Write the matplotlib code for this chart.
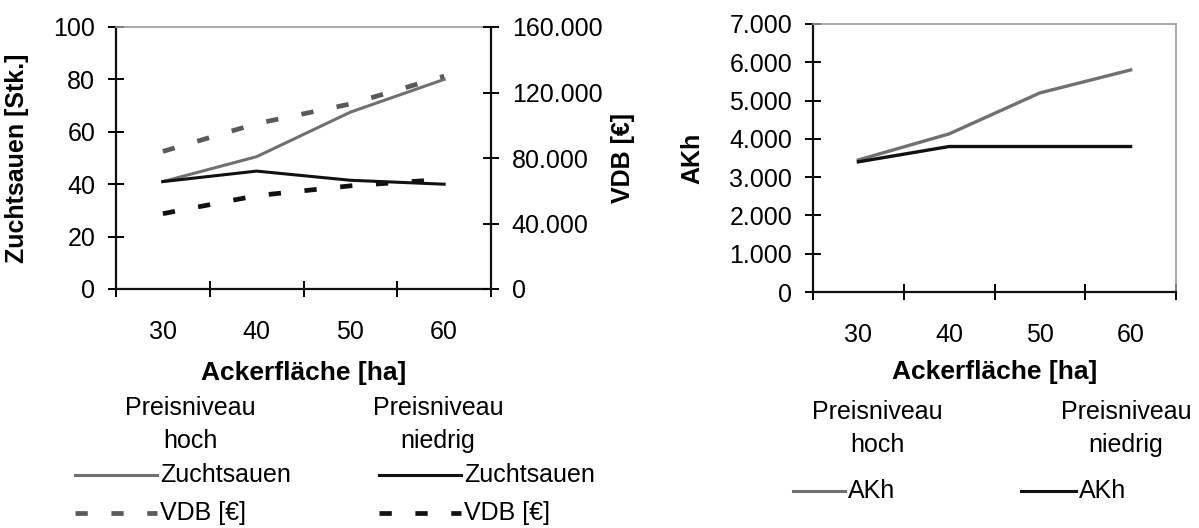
"""
Zuchtsauen, VDB und AKh nach Ackerfläche (Preisniveau hoch / niedrig).
"""

import matplotlib
matplotlib.use('Agg')
import matplotlib.pyplot as plt
from matplotlib.lines import Line2D
from matplotlib.ticker import FixedLocator, FuncFormatter

plt.rcParams['font.family'] = ['Liberation Sans', 'DejaVu Sans']

categories = ['30', '40', '50', '60']
zucht_hoch = [41, 50.5, 67.5, 80]
zucht_niedrig = [41, 45, 41.5, 40]
vdb_hoch = [84000, 101000, 113000, 130000]
vdb_niedrig = [46000, 57000, 63000, 67000]
akh_hoch = [3450, 4130, 5200, 5800]
akh_niedrig = [3400, 3800, 3800, 3800]

GRAY = '#707070'
DGRAY = '#5a5a5a'
BLACK = '#111111'
W, H = 1199, 528


def px(x, y):
    """pixel (from top left) -> figure fraction"""
    return x / W, 1 - y / H


def de_fmt(v, pos=None):
    return '{:,.0f}'.format(v).replace(',', '.')


def style_axis(ax, gray_sides):
    ax.set_xlim(-0.5, len(categories) - 0.5)
    # category boundaries get the tick marks, labels sit in the middle
    ax.xaxis.set_major_locator(FixedLocator([i - 0.5 for i in range(len(categories) + 1)]))
    ax.xaxis.set_minor_locator(FixedLocator(range(len(categories))))
    ax.xaxis.set_major_formatter(FuncFormatter(lambda v, p: ''))
    ax.set_xticks(range(len(categories)), categories, minor=True)
    ax.tick_params(axis='x', which='major', direction='inout', length=12, width=1.4)
    ax.tick_params(axis='x', which='minor', length=0, pad=22, labelsize=18)
    ax.tick_params(axis='y', direction='inout', length=12, width=1.4, pad=9, labelsize=18)
    for side in ['left', 'bottom', 'right', 'top']:
        ax.spines[side].set_linewidth(1.6)
        ax.spines[side].set_color(BLACK)
    for side in gray_sides:
        ax.spines[side].set_color('#999999')
        ax.spines[side].set_linewidth(1.2)
    ax.set_xlabel('Ackerfläche [ha]', fontsize=19, fontweight='bold')
    ax.xaxis.label.set_va('center')
    ax.set_facecolor('white')


fig = plt.figure(figsize=(W / 100, H / 100), dpi=100)

# ---- left chart: Zuchtsauen + VDB
x0, y0 = px(116, 289)
x1, y1 = px(491, 27)
ax1 = fig.add_axes([x0, y0, x1 - x0, y1 - y0])
ax2 = ax1.twinx()
x = range(len(categories))

ax1.plot(x, zucht_hoch, color=GRAY, lw=2.2)
ax1.plot(x, zucht_niedrig, color=BLACK, lw=2.2)
ax2.plot(x, vdb_hoch, color=DGRAY, lw=3.4, dashes=(2.6, 5.0))
ax2.plot(x, vdb_niedrig, color=BLACK, lw=3.4, dashes=(2.6, 5.0))

style_axis(ax1, ['top'])
ax1.spines['right'].set_visible(False)
ax1.set_ylim(0, 100)
ax1.set_yticks(range(0, 101, 20))
ax1.set_ylabel('Zuchtsauen [Stk.]', fontsize=18, fontweight='bold')
ax1.yaxis.set_label_coords(-0.232, 0.5)
ax1.xaxis.set_label_coords(0.5, -0.32)

ax2.set_ylim(0, 160000)
ax2.set_yticks(range(0, 160001, 40000))
ax2.yaxis.set_major_formatter(FuncFormatter(de_fmt))
ax2.tick_params(axis='y', direction='inout', length=12, width=1.4, pad=9, labelsize=18)
for side in ['left', 'bottom', 'top']:
    ax2.spines[side].set_visible(False)
ax2.spines['right'].set_linewidth(1.6)
ax2.spines['right'].set_color(BLACK)
ax2.set_ylabel('VDB [€]', fontsize=18, fontweight='bold')
ax2.yaxis.set_label_coords(1.32, 0.5)

# ---- right chart: AKh
x0, y0 = px(813, 292)
x1, y1 = px(1176, 24)
ax3 = fig.add_axes([x0, y0, x1 - x0, y1 - y0])
ax3.plot(x, akh_hoch, color=GRAY, lw=2.4)
ax3.plot(x, akh_niedrig, color=BLACK, lw=2.4)
style_axis(ax3, ['top', 'right'])
ax3.set_ylim(0, 7000)
ax3.set_yticks(range(0, 7001, 1000))
ax3.yaxis.set_major_formatter(FuncFormatter(de_fmt))
ax3.set_ylabel('AKh', fontsize=18, fontweight='bold')
ax3.yaxis.set_label_coords(-0.30, 0.5)
ax3.xaxis.set_label_coords(0.5, -0.30)


# ---- legends, drawn by hand to get the two headed columns
def legend_key(xa, xb, y, color, text, dashed=False):
    xs = [px(xa, y)[0], px(xb, y)[0]]
    ys = [px(xa, y)[1]] * 2
    if dashed:
        ln = Line2D(xs, ys, transform=fig.transFigure, color=color, lw=3.4, dashes=(2.6, 5.0))
    else:
        ln = Line2D(xs, ys, transform=fig.transFigure, color=color, lw=2.2)
    fig.add_artist(ln)
    fig.text(*px(xb + 3, y), text, ha='left', va='center', fontsize=18)


def heading(xc, y, level):
    fig.text(*px(xc, y), 'Preisniveau', ha='center', va='center', fontsize=18)
    fig.text(*px(xc, y + 33), level, ha='center', va='center', fontsize=18)


heading(190, 408, 'hoch')
heading(438, 408, 'niedrig')
legend_key(75, 157, 475, GRAY, 'Zuchtsauen')
legend_key(75, 157, 513, DGRAY, 'VDB [€]', dashed=True)
legend_key(379, 461, 475, BLACK, 'Zuchtsauen')
legend_key(379, 461, 513, BLACK, 'VDB [€]', dashed=True)

heading(877, 412, 'hoch')
heading(1126, 412, 'niedrig')
legend_key(793, 845, 491, GRAY, 'AKh')
legend_key(1021, 1076, 491, BLACK, 'AKh')

fig.savefig('out.png', dpi=100, facecolor='white')
